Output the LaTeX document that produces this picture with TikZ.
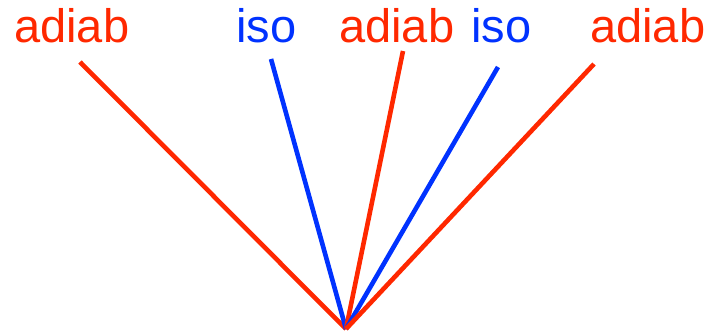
\documentclass[tikz,border=0pt]{standalone}
\usepackage{fontspec}
\setmainfont{Liberation Sans}
\definecolor{myred}{RGB}{255,40,0}
\definecolor{myblue}{RGB}{0,50,255}
\begin{document}
\begin{tikzpicture}[x=1pt,y=-1pt,
  lbl/.style={anchor=base west,inner sep=0pt,font=\fontsize{47}{47}\selectfont},
  redline/.style={draw=myred,line width=4.6pt},
  blueline/.style={draw=myblue,line width=4.6pt}]
\useasboundingbox (0,0) rectangle (705,331);
\node[lbl,text=myred] (l1) at (14,43) {adiab};
\node[lbl,text=myblue] (l2) at (236,43) {iso};
\node[lbl,text=myred] (l3) at (339,43) {adiab};
\node[lbl,text=myblue] (l4) at (471,43) {iso};
\node[lbl,text=myred] (l5) at (590,43) {adiab};
\coordinate (o) at (346,329);
\coordinate (t1) at (80,62);
\coordinate (t2) at (271,59);
\coordinate (t3) at (403,51);
\coordinate (t4) at (498,67);
\coordinate (t5) at (594,64);
\draw[redline] (t1) -- (o);
\draw[blueline] (t2) -- (o);
\draw[redline] (t3) -- (o);
\draw[blueline] (t4) -- (o);
\draw[redline] (t5) -- (o);
\end{tikzpicture}
\end{document}
